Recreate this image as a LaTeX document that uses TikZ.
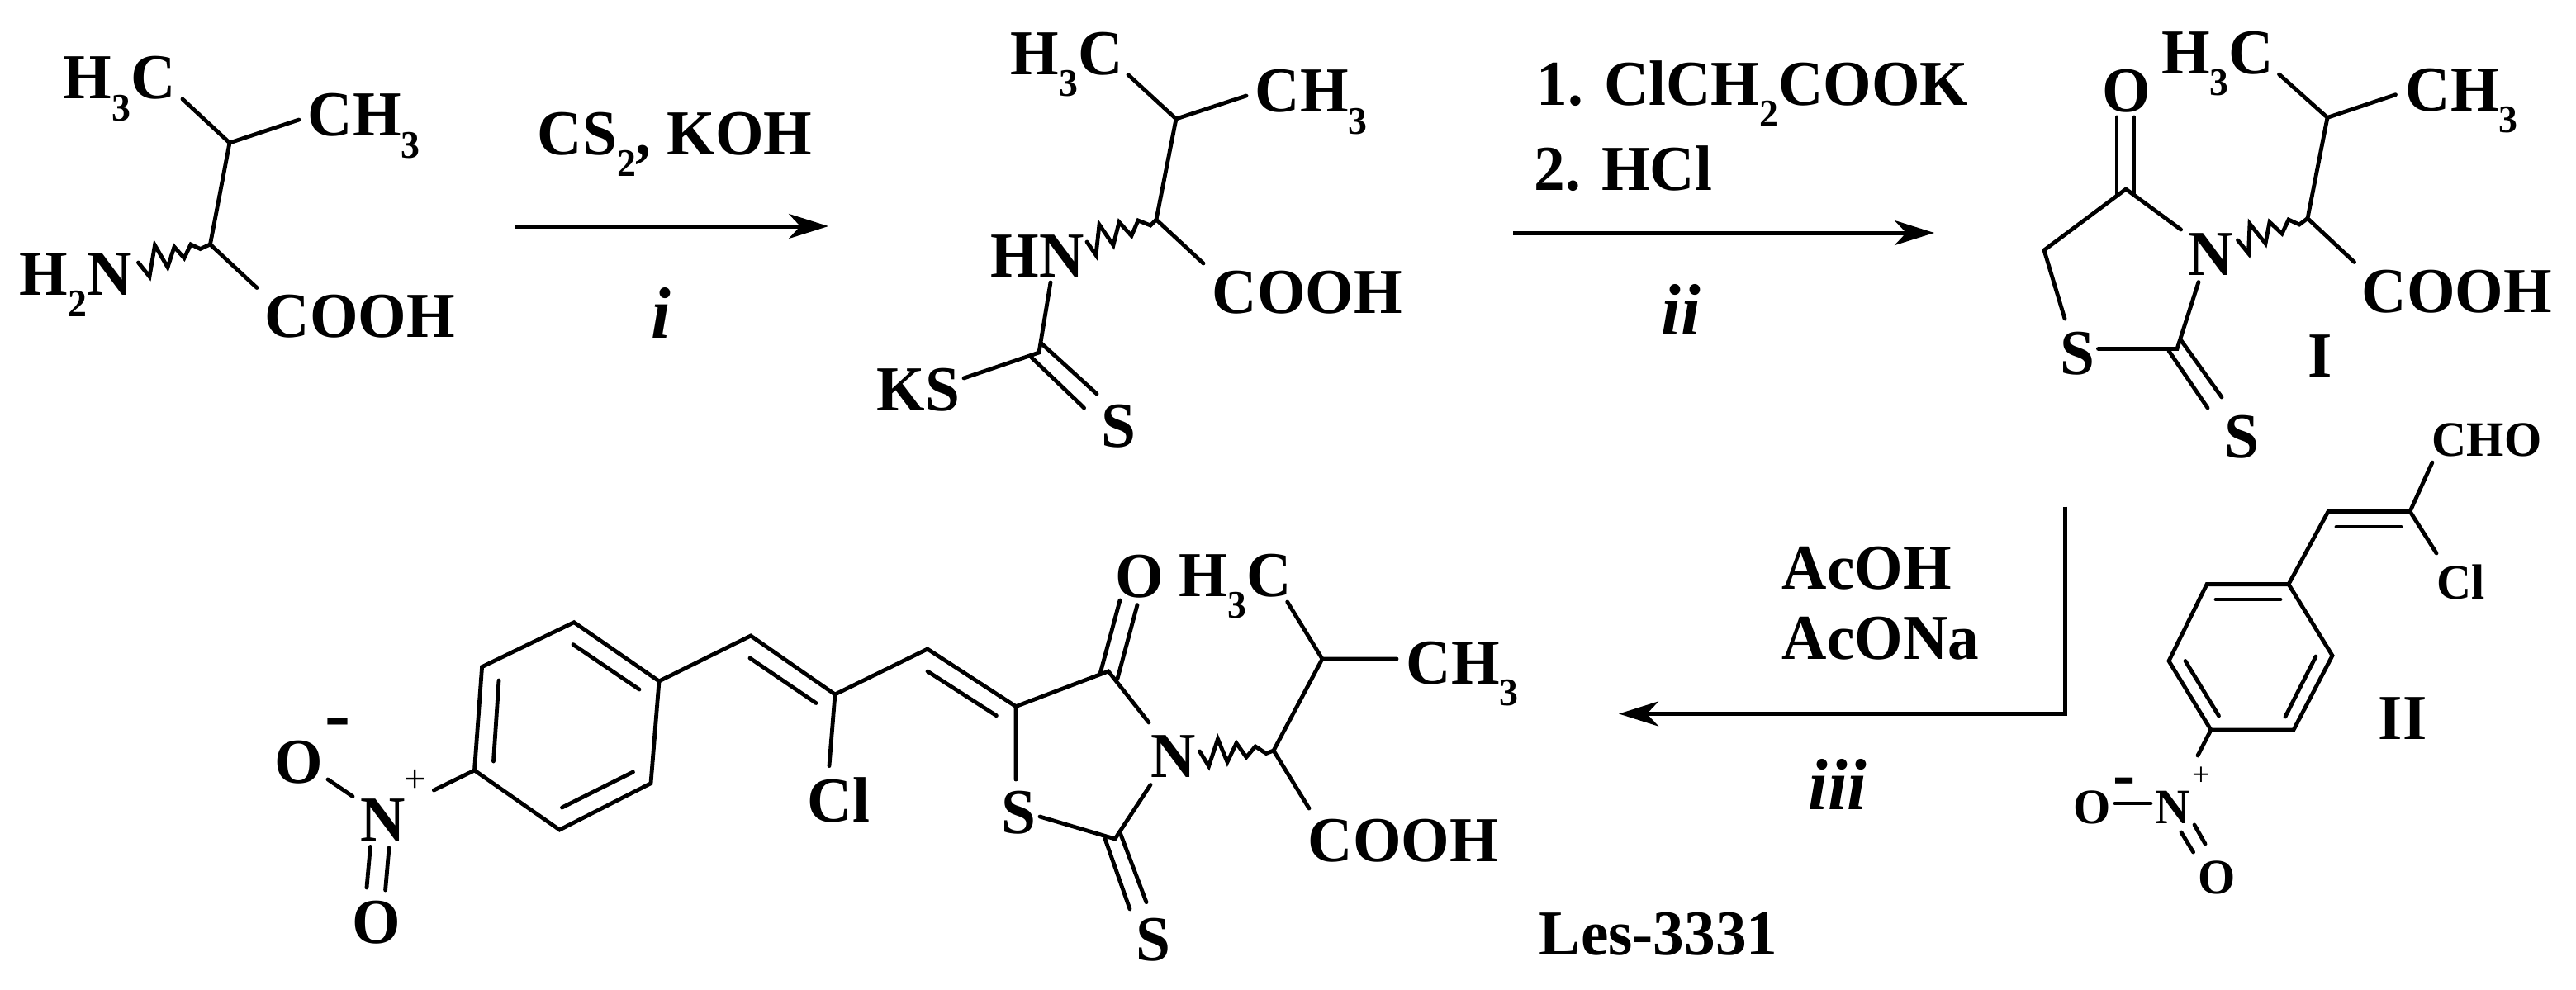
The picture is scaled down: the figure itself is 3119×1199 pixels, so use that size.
\documentclass[tikz,border=0pt]{standalone}
\usepackage{fontspec}
\setmainfont{Liberation Serif}[FakeStretch=0.97]
\usetikzlibrary{arrows.meta}
\tikzset{>={Stealth[length=12pt,width=7.5pt,inset=3.5pt]}}
\tikzset{
    bond/.style={line width=1.2pt, line cap=round, line join=miter},
    yieldline/.style={line width=1.25pt, line join=miter},
    atom/.style={inner sep=0pt, anchor=base west, font=\bfseries\fontsize{19.4}{20}\selectfont},
    smallatom/.style={inner sep=0pt, anchor=base west, font=\bfseries\fontsize{15}{16}\selectfont},
    stepmark/.style={inner sep=0pt, anchor=base, font=\bfseries\itshape\fontsize{22}{23}\selectfont}
}
\newcommand{\lowdigit}[1]{\raisebox{-6.5pt}{\fontsize{11.8}{12}\selectfont #1}}

\begin{document}
\begin{tikzpicture}[x=0.25pt,y=-0.25pt]
            \useasboundingbox (0,0) rectangle (3119,1199);

            \node[atom] (valMeA) at (76,120) {H\lowdigit{3}C};
            \node[atom] (valMeB) at (372,165) {CH\lowdigit{3}};
            \node[atom] (valN) at (23,357) {H\lowdigit{2}N};
            \node[atom] (valAcid) at (320,408) {COOH};
            \coordinate (valCb) at (278,173);
            \coordinate (valCa) at (254.5,296);
            \coordinate (valMeAe) at (221,120);
            \coordinate (valMeBe) at (362,145);
            \coordinate (valAcide) at (311,348.5);
            \coordinate (valNe) at (167.5,318);
            \draw[bond] (valMeAe) -- (valCb) -- (valMeBe);
            \draw[bond] (valCb) -- (valCa) -- (valAcide);
            \draw[bond] (valCa) -- (242.5,301.5) -- (231,296) -- (223,312.6) -- (211,299) -- (203,323.7) -- (187.5,297) -- (181,335) -- (valNe);

            \coordinate (stepAs) at (623,274);
            \coordinate (stepAe) at (1003,274);
            \draw[yieldline,->] (stepAs) -- (stepAe);
            \node[atom] (reagA) at (650,187) {CS\lowdigit{2}, KOH};
            \node[stepmark] (markA) at (800,409) {i};

            \node[atom] (dtcMeA) at (1223,90.6) {H\lowdigit{3}C};
            \node[atom] (dtcMeB) at (1519,136) {CH\lowdigit{3}};
            \node[atom] (dtcN) at (1199,335) {HN};
            \node[atom] (dtcAcid) at (1467,379) {COOH};
            \node[atom] (dtcK) at (1061,497) {KS};
            \node[atom] (dtcS) at (1333,541) {S};
            \coordinate (dtcCb) at (1424,144);
            \coordinate (dtcCa) at (1400,266);
            \coordinate (dtcMeAe) at (1366,90.6);
            \coordinate (dtcMeBe) at (1509,116);
            \coordinate (dtcAcide) at (1457,319);
            \coordinate (dtcNe) at (1316,293);
            \coordinate (dtcNb) at (1272,342);
            \coordinate (dtcC) at (1258,427);
            \coordinate (dtcKe) at (1167,458);
            \coordinate (dtcSa) at (1261,416);
            \coordinate (dtcSb) at (1328,477);
            \coordinate (dtcSc) at (1249,433);
            \coordinate (dtcSd) at (1312.6,494);
            \draw[bond] (dtcMeAe) -- (dtcCb) -- (dtcMeBe);
            \draw[bond] (dtcCb) -- (dtcCa) -- (dtcAcide);
            \draw[bond] (dtcCa) -- (1393,273) -- (1378,267) -- (1370,285.6) -- (1355,269) -- (1348,297) -- (1331,272) -- (1327,309) -- (dtcNe);
            \draw[bond] (dtcNb) -- (dtcC) -- (dtcKe);
            \draw[bond] (dtcSa) -- (dtcSb);
            \draw[bond] (dtcSc) -- (dtcSd);

            \coordinate (stepBs) at (1832,282);
            \coordinate (stepBe) at (2342,282);
            \draw[yieldline,->] (stepBs) -- (stepBe);
            \node[atom] (reagB) at (1860,127) {1. ClCH\lowdigit{2}COOK};
            \node[atom] (reagC) at (1857,230) {2. HCl};
            \node[stepmark] (markB) at (2035,405) {ii};

            \node[atom] (rhoO) at (2545,136) {O};
            \node[atom] (rhoMeA) at (2616.6,89) {H\lowdigit{3}C};
            \node[atom] (rhoMeB) at (2912,134) {CH\lowdigit{3}};
            \node[atom] (rhoN) at (2649,333) {N};
            \node[atom] (rhoAcid) at (2859,378) {COOH};
            \node[atom] (rhoS) at (2494,453) {S};
            \node[atom] (rhoSx) at (2693,554) {S};
            \node[atom] (rhoName) at (2794,456) {I};
            \coordinate (rhoCo) at (2574,229);
            \coordinate (rhoCh) at (2475,303);
            \coordinate (rhoSe) at (2500,386);
            \coordinate (rhoSf) at (2540.5,422.5);
            \coordinate (rhoCs) at (2636,422.5);
            \coordinate (rhoNa) at (2640.6,278);
            \coordinate (rhoNb) at (2662,341.5);
            \coordinate (rhoOa) at (2563,142);
            \coordinate (rhoOb) at (2563,235);
            \coordinate (rhoOc) at (2584,142);
            \coordinate (rhoOd) at (2584,235);
            \coordinate (rhoSa) at (2641,412.5);
            \coordinate (rhoSb) at (2690,481);
            \coordinate (rhoSc) at (2626,425);
            \coordinate (rhoSd) at (2673,494);
            \coordinate (rhoCb) at (2818,142.4);
            \coordinate (rhoCa) at (2794,264.5);
            \coordinate (rhoMeAe) at (2759.5,90);
            \coordinate (rhoMeBe) at (2900.5,114.7);
            \coordinate (rhoAcide) at (2850.5,317.4);
            \coordinate (rhoNe) at (2709.5,291);
            \draw[bond] (rhoNa) -- (rhoCo) -- (rhoCh) -- (rhoSe);
            \draw[bond] (rhoSf) -- (rhoCs) -- (rhoNb);
            \draw[bond] (rhoOa) -- (rhoOb);
            \draw[bond] (rhoOc) -- (rhoOd);
            \draw[bond] (rhoSa) -- (rhoSb);
            \draw[bond] (rhoSc) -- (rhoSd);
            \draw[bond] (rhoMeAe) -- (rhoCb) -- (rhoMeBe);
            \draw[bond] (rhoCb) -- (rhoCa) -- (rhoAcide);
            \draw[bond] (rhoCa) -- (2784,272) -- (2771,266) -- (2763,283) -- (2748,269) -- (2743,295) -- (2724,271) -- (2722.5,307) -- (rhoNe);

            \node[smallatom] (aldCho) at (2944,552.6) {CHO};
            \node[smallatom] (aldCl) at (2950,725) {Cl};
            \node[smallatom] (aldOa) at (2510,997) {O};
            \node[smallatom] (aldN) at (2608.6,997) {N};
            \node[smallatom] (aldOb) at (2661,1082) {O};
            \node[inner sep=0pt, font=\fontsize{10}{10}\selectfont] (aldPlus) at (2665,940) {+};
            \node[inner sep=0pt, font=\bfseries\fontsize{21}{21}\selectfont] (aldMinus) at (2572,954) {-};
            \node[atom] (aldName) at (2879,895) {II};
            \coordinate (aldChoe) at (2945,560);
            \coordinate (aldCa) at (2918,619.4);
            \coordinate (aldCb) at (2819,619.4);
            \coordinate (aldCle) at (2950,670);
            \coordinate (aldCc) at (2829,638);
            \coordinate (aldCd) at (2907,638);
            \coordinate (aldRa) at (2771,707.6);
            \coordinate (aldRb) at (2672,707.6);
            \coordinate (aldRc) at (2626,800.5);
            \coordinate (aldRd) at (2677,884);
            \coordinate (aldRe) at (2777,884);
            \coordinate (aldRf) at (2824,794);
            \coordinate (aldIa) at (2683,726);
            \coordinate (aldIb) at (2761,726);
            \coordinate (aldIc) at (2646,800.5);
            \coordinate (aldId) at (2686.5,867);
            \coordinate (aldIe) at (2804,795);
            \coordinate (aldIf) at (2767,868);
            \coordinate (aldNa) at (2661,915);
            \coordinate (aldNb) at (2561,973);
            \coordinate (aldNc) at (2604,973);
            \coordinate (aldNd) at (2657,999);
            \coordinate (aldNe) at (2670,1022);
            \coordinate (aldNf) at (2641,1008);
            \coordinate (aldNg) at (2655.6,1032);
            \draw[bond] (aldChoe) -- (aldCa) -- (aldCle);
            \draw[bond] (aldCa) -- (aldCb) -- (aldRa);
            \draw[bond] (aldCc) -- (aldCd);
            \draw[bond] (aldRa) -- (aldRb) -- (aldRc) -- (aldRd) -- (aldRe) -- (aldRf) -- cycle;
            \draw[bond] (aldIa) -- (aldIb);
            \draw[bond] (aldIc) -- (aldId);
            \draw[bond] (aldIe) -- (aldIf);
            \draw[bond] (aldRd) -- (aldNa);
            \draw[bond] (aldNb) -- (aldNc);
            \draw[bond] (aldNd) -- (aldNe);
            \draw[bond] (aldNf) -- (aldNg);

            \coordinate (stepCs) at (2500,613.5);
            \coordinate (stepCc) at (2500,864.5);
            \coordinate (stepCe) at (1960,864.5);
            \draw[yieldline,->] (stepCs) -- (stepCc) -- (stepCe);
            \node[atom] (reagD) at (2157,713) {AcOH};
            \node[atom] (reagE) at (2157,798.5) {AcONa};
            \node[stepmark] (markC) at (2225,980) {iii};

            \node[atom] (lesOa) at (332,948) {O};
            \node[atom] (lesNp) at (436,1018) {N};
            \node[atom] (lesOb) at (426,1142.5) {O};
            \node[inner sep=0pt, font=\fontsize{12}{12}\selectfont] (lesPlus) at (503,946) {+};
            \node[inner sep=0pt, font=\bfseries\fontsize{24}{24}\selectfont] (lesMinus) at (409,883) {-};
            \node[atom] (lesCl) at (977,995) {Cl};
            \node[atom] (lesS) at (1212,1009.6) {S};
            \node[atom] (lesSx) at (1374.5,1163) {S};
            \node[atom] (lesO) at (1350,723.4) {O};
            \node[atom] (lesN) at (1393,941) {N};
            \node[atom] (lesMeA) at (1427,722.7) {H\lowdigit{3}C};
            \node[atom] (lesMeB) at (1702,828) {CH\lowdigit{3}};
            \node[atom] (lesAcid) at (1583,1043.6) {COOH};
            \node[atom] (lesName) at (1863,1156) {Les-3331};
            \coordinate (lesRa) at (798,825);
            \coordinate (lesRb) at (695,753.7);
            \coordinate (lesRc) at (583.6,807.6);
            \coordinate (lesRd) at (574.5,933);
            \coordinate (lesRe) at (677.5,1005);
            \coordinate (lesRf) at (788,948.7);
            \coordinate (lesIa) at (694,780.6);
            \coordinate (lesIb) at (774,835);
            \coordinate (lesIc) at (604,824);
            \coordinate (lesId) at (597.5,922);
            \coordinate (lesIe) at (766.5,935);
            \coordinate (lesIf) at (680.5,978);
            \coordinate (lesG) at (909,770);
            \coordinate (lesH) at (1011,841);
            \coordinate (lesJ) at (1123,786);
            \coordinate (lesK) at (1230,855.6);
            \coordinate (lesGa) at (908,797);
            \coordinate (lesGb) at (988,851.5);
            \coordinate (lesJa) at (1123,813);
            \coordinate (lesJb) at (1206.4,866.7);
            \coordinate (lesCle) at (1004,927.6);
            \coordinate (lesNa) at (525.4,957);
            \coordinate (lesNb) at (397,944);
            \coordinate (lesNc) at (427,964.5);
            \coordinate (lesNd) at (448.4,1025.5);
            \coordinate (lesNe) at (444,1075);
            \coordinate (lesNf) at (471,1027);
            \coordinate (lesNg) at (466.6,1078);
            \coordinate (lesCo) at (1342,813);
            \coordinate (lesOa1) at (1332,816);
            \coordinate (lesOa2) at (1356,727);
            \coordinate (lesOb1) at (1353,822);
            \coordinate (lesOb2) at (1377,732.6);
            \coordinate (lesRn) at (1391,875);
            \coordinate (lesRs) at (1230,944);
            \coordinate (lesRt) at (1259,989);
            \coordinate (lesCs) at (1350,1016);
            \coordinate (lesRm) at (1393,950.5);
            \coordinate (lesSa) at (1356,1008);
            \coordinate (lesSb) at (1388,1092.7);
            \coordinate (lesSc) at (1338,1016);
            \coordinate (lesSd) at (1368,1101);
            \coordinate (lesCb) at (1601,798);
            \coordinate (lesCa) at (1542,909);
            \coordinate (lesMeAe) at (1558.7,729);
            \coordinate (lesMeBe) at (1691,798);
            \coordinate (lesAcide) at (1585,979);
            \coordinate (lesNe2) at (1452.6,910);
            \draw[bond] (lesRa) -- (lesRb) -- (lesRc) -- (lesRd) -- (lesRe) -- (lesRf) -- cycle;
            \draw[bond] (lesIa) -- (lesIb);
            \draw[bond] (lesIc) -- (lesId);
            \draw[bond] (lesIe) -- (lesIf);
            \draw[bond] (lesRa) -- (lesG) -- (lesH) -- (lesJ) -- (lesK);
            \draw[bond] (lesGa) -- (lesGb);
            \draw[bond] (lesJa) -- (lesJb);
            \draw[bond] (lesH) -- (lesCle);
            \draw[bond] (lesRd) -- (lesNa);
            \draw[bond] (lesNb) -- (lesNc);
            \draw[bond] (lesNd) -- (lesNe);
            \draw[bond] (lesNf) -- (lesNg);
            \draw[bond] (lesRs) -- (lesK) -- (lesCo) -- (lesRn);
            \draw[bond] (lesOa1) -- (lesOa2);
            \draw[bond] (lesOb1) -- (lesOb2);
            \draw[bond] (lesRt) -- (lesCs) -- (lesRm);
            \draw[bond] (lesSa) -- (lesSb);
            \draw[bond] (lesSc) -- (lesSd);
            \draw[bond] (lesMeAe) -- (lesCb) -- (lesMeBe);
            \draw[bond] (lesCb) -- (lesCa) -- (lesAcide);
            \draw[bond] (lesCa) -- (1533,912.5) -- (1520,904) -- (1509,917) -- (1497,900) -- (1486,923) -- (1474.5,895) -- (1463.6,928) -- (lesNe2);

\end{tikzpicture}
\end{document}
